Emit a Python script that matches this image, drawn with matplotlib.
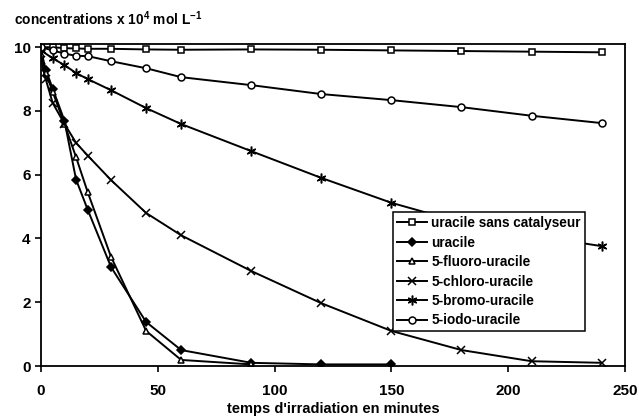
import matplotlib
matplotlib.use("Agg")
import matplotlib.pyplot as plt

plt.rcParams['font.family'] = ['Liberation Sans', 'DejaVu Sans']
plt.rcParams['mathtext.fontset'] = 'custom'
plt.rcParams['mathtext.rm'] = 'Liberation Sans:bold'
plt.rcParams['mathtext.bf'] = 'Liberation Sans:bold'
plt.rcParams['mathtext.default'] = 'bf'

# DATA
t_long = [0, 5, 10, 15, 20, 30, 45, 60, 90, 120, 150, 180, 210, 240]
t_fast = [0, 2, 5, 10, 15, 20, 30, 45, 60, 90, 120, 150]
t_fluoro = [0, 2, 5, 10, 15, 20, 30, 45, 60, 90]
t_chloro = [0, 2, 5, 10, 15, 20, 30, 45, 60, 90, 120, 150, 180, 210, 240]

sans_cat = [10.0, 10.0, 9.97, 9.96, 9.95, 9.95, 9.93, 9.92, 9.93, 9.92, 9.9, 9.88, 9.86, 9.84]
uracile = [9.9, 9.3, 8.7, 7.7, 5.85, 4.9, 3.1, 1.38, 0.5, 0.1, 0.05, 0.05]
fluoro = [9.8, 9.2, 8.6, 7.6, 6.55, 5.45, 3.42, 1.1, 0.19, 0.05]
chloro = [9.6, 9.0, 8.25, 7.6, 7.0, 6.6, 5.83, 4.8, 4.1, 2.98, 1.97, 1.1, 0.5, 0.15, 0.1]
bromo = [9.9, 9.65, 9.44, 9.19, 9.0, 8.65, 8.09, 7.59, 6.74, 5.9, 5.12, 4.5, 4.1, 3.76]
iodo = [10.0, 9.9, 9.8, 9.73, 9.72, 9.56, 9.34, 9.06, 8.81, 8.53, 8.34, 8.12, 7.85, 7.62]

labels = ['uracile sans catalyseur', 'uracile', '5-fluoro-uracile',
          '5-chloro-uracile', '5-bromo-uracile', '5-iodo-uracile']

fig = plt.figure(figsize=(6.39, 4.18), dpi=100)
ax = fig.add_axes([0.0642, 0.1244, 0.9138, 0.7703])

kw = dict(color='black', lw=1.4, markeredgecolor='black', markeredgewidth=1.1)
ax.plot(t_long, sans_cat, marker='s', ms=5, mfc='white', label=labels[0], **kw)
ax.plot(t_fast, uracile, marker='D', ms=4, mfc='black', label=labels[1], **kw)
ax.plot(t_fluoro, fluoro, marker='^', ms=5, mfc='white', label=labels[2], **kw)
ax.plot(t_chloro, chloro, marker='x', ms=6, label=labels[3], **kw)
ax.plot(t_long, bromo, marker=(6, 2, 0), ms=7, label=labels[4], **kw)
ax.plot(t_long, iodo, marker='o', ms=5, mfc='white', label=labels[5], **kw)

ax.set_xlim(0, 250)
ax.set_ylim(0, 10.1)
ax.set_xticks([0, 50, 100, 150, 200, 250])
ax.set_yticks([0, 2, 4, 6, 8, 10])
ax.tick_params(direction='out', length=4, width=1.2, labelsize=11)
for lab in ax.get_xticklabels() + ax.get_yticklabels():
    lab.set_fontweight('bold')
ax.tick_params(axis='x', pad=9)
for s in ax.spines.values():
    s.set_linewidth(1.3)

ax.set_xlabel("temps d'irradiation en minutes", fontsize=10.5, fontweight='bold', labelpad=3)
fig.text(0.022, 0.955, r"concentrations x 10$^{4}$ mol L$^{-1}$", fontsize=9.9,
         fontweight='bold', va='center', ha='left')

leg = ax.legend(loc='upper left', bbox_to_anchor=(0.603, 0.478), fontsize=9.8,
                frameon=True, fancybox=False, framealpha=1, edgecolor='black',
                handlelength=2.2, handletextpad=0.3, borderpad=0.3, labelspacing=0.4,
                borderaxespad=0)
leg.get_frame().set_linewidth(1.1)
for txt in leg.get_texts():
    txt.set_fontweight('bold')

fig.savefig('out.png', dpi=100)
